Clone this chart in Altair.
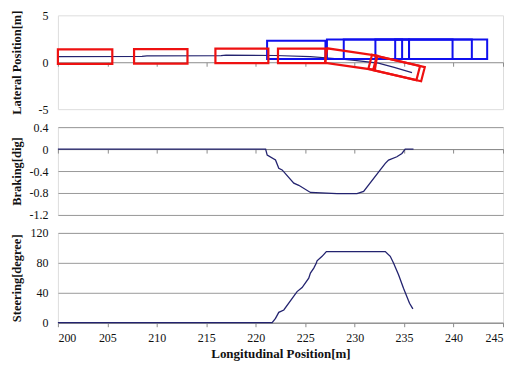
import altair as alt
import pandas as pd
import numpy as np

# ---------------- data ----------------
# vehicle trajectory (lateral position vs longitudinal position)
traj_x = [200, 208.5, 209.0, 216.5, 217.0, 222.0, 225.5, 228.0, 230.0, 232.4, 234.0, 235.8]
traj_y = [0.6, 0.62, 0.68, 0.7, 0.75, 0.72, 0.6, 0.4, 0.2, -0.1, -0.55, -1.1]

# ego vehicle footprints (red): centre, length, width, heading angle [deg]
red_cx = [202.75, 210.4, 218.6, 224.65, 229.64, 234.0, 234.48]
red_cy = [0.6, 0.62, 0.68, 0.68, 0.33, -0.56, -0.68]
red_len = [5.5, 5.4, 5.35, 4.8, 5.1, 5.0, 5.0]
red_wid = [1.55, 1.55, 1.55, 1.55, 1.55, 1.55, 1.55]
red_ang = [0, 0, 0, 0, -8.7, -13.8, -13.8]

# other vehicle footprints (blue)
blue_x0 = [221.15, 227.2, 228.9, 232.1, 234.1, 235.5]
blue_x1 = [227.05, 234.8, 235.5, 239.9, 241.85, 243.4]
blue_y0 = [0.35, 0.35, 0.35, 0.35, 0.35, 0.35]
blue_y1 = [2.3, 2.42, 2.42, 2.42, 2.42, 2.42]

# braking
brk_x = [200, 221.0, 221.16, 222.0, 222.33, 222.67, 223.85, 224.35, 225.53, 228.22,
         230.24, 230.91, 232.59, 233.10, 233.43, 234.27, 234.78, 235.11, 235.95]
brk_y = [0, 0, -0.11, -0.2, -0.35, -0.38, -0.62, -0.66, -0.79, -0.81,
         -0.81, -0.77, -0.38, -0.26, -0.2, -0.14, -0.08, 0, 0]

# steering
str_x = [200, 221.66, 222.0, 222.33, 222.84, 224.18, 224.69, 225.36, 225.53, 225.87, 226.13,
         226.2, 226.71, 227.14, 233.10, 233.6, 233.93, 234.44, 234.94, 235.55, 235.89]
str_y = [0, 0, 5.8, 13.9, 17, 41.6, 47, 59.6, 66.3, 73, 79.7,
         82.8, 88.7, 95, 95, 88.7, 79.7, 64, 46, 26, 18.4]

x_ticks = [200, 205, 210, 215, 220, 225, 230, 235, 240, 245]

# ---------------- tables ----------------
traj_df = pd.DataFrame({"x": traj_x, "y": traj_y})
rows = []
for i, (cx, cy, L, W, a) in enumerate(zip(red_cx, red_cy, red_len, red_wid, red_ang)):
    t = np.radians(a)
    ux, uy = np.cos(t), np.sin(t)
    nx, ny = -np.sin(t), np.cos(t)
    for k, (s1, s2) in enumerate([(-1, -1), (1, -1), (1, 1), (-1, 1), (-1, -1)]):
        rows.append({"id": i, "k": k,
                     "x": cx + s1 * L / 2 * ux + s2 * W / 2 * nx,
                     "y": cy + s1 * L / 2 * uy + s2 * W / 2 * ny})
red_df = pd.DataFrame(rows)
blue_df = pd.DataFrame({"x0": blue_x0, "x1": blue_x1, "y0": blue_y0, "y1": blue_y1})
brk_df = pd.DataFrame({"x": brk_x, "y": brk_y})
str_df = pd.DataFrame({"x": str_x, "y": str_y})

W_PLOT = 446
H1, H2, H3 = 94, 88, 90
SERIF = "Times New Roman, Liberation Serif, DejaVu Serif, serif"
LINE = "#23236f"
GRAY = "#8c8c8c"

xscale = alt.Scale(domain=[200, 245], nice=False, zero=False)


def x_inner(offset):
    return alt.Axis(values=x_ticks, labels=False, title=None, grid=False, offset=offset,
                    domainColor=GRAY, tickColor=GRAY, tickSize=4)


def y_axis(title, values, h, grid):
    return alt.Axis(values=values, title=title, grid=grid, gridColor="#9a9a9a",
                    domain=False, ticks=False, labelFont=SERIF, labelFontSize=12,
                    labelColor="#111", labelPadding=10, format=".1~f",
                    labelExpr="replace(datum.label, '\u2212', '-')",
                    titleFont=SERIF, titleFontSize=12.5, titleFontWeight="bold",
                    titleColor="#111", titleX=-41, titleY=h / 2, titleAngle=-90,
                    titleAlign="center", titleBaseline="middle")


# ---- top panel ----
ax_top = x_inner(-H1 / 2)
y_top = alt.Scale(domain=[-5, 5], nice=False)
yax_top = y_axis("Lateral Position[m]", [-5, 0, 5], H1, False)

traj = alt.Chart(traj_df).mark_line(color=LINE, strokeWidth=1.2).encode(
    x=alt.X("x:Q", scale=xscale, axis=ax_top),
    y=alt.Y("y:Q", scale=y_top, axis=yax_top),
)
blue = alt.Chart(blue_df).mark_rect(fill="white", fillOpacity=0, stroke="#1010ee",
                                    strokeWidth=2).encode(
    x=alt.X("x0:Q", scale=xscale, axis=ax_top), x2="x1:Q",
    y=alt.Y("y0:Q", scale=y_top, axis=yax_top), y2="y1:Q",
)
red = alt.Chart(red_df).mark_line(color="#ee1111", strokeWidth=2.2, strokeJoin="miter",
                                  strokeCap="square").encode(
    x=alt.X("x:Q", scale=xscale, axis=ax_top),
    y=alt.Y("y:Q", scale=y_top, axis=yax_top),
    detail="id:N", order="k:Q",
)
top = alt.layer(traj, blue, red).properties(width=W_PLOT, height=H1)

# ---- middle panel ----
mid = alt.Chart(brk_df).mark_line(color=LINE, strokeWidth=1.3).encode(
    x=alt.X("x:Q", scale=xscale, axis=x_inner(-H2 * 1.2 / 1.6)),
    y=alt.Y("y:Q", scale=alt.Scale(domain=[-1.2, 0.4], nice=False),
            axis=y_axis("Braking[dig]", [0.4, 0, -0.4, -0.8, -1.2], H2, True)),
).properties(width=W_PLOT, height=H2)

# ---- bottom panel ----
bot = alt.Chart(str_df).mark_line(color=LINE, strokeWidth=1.3).encode(
    x=alt.X("x:Q", scale=xscale,
            axis=alt.Axis(values=x_ticks, title="Longitudinal Position[m]", grid=False,
                          domainColor=GRAY, tickColor=GRAY, tickSize=4,
                          labelFont=SERIF, labelFontSize=12, labelColor="#111",
                          labelPadding=6, titleFont=SERIF, titleFontSize=13,
                          titleFontWeight="bold", titleColor="#111", titlePadding=4)),
    y=alt.Y("y:Q", scale=alt.Scale(domain=[0, 120], nice=False),
            axis=y_axis("Steering[degree]", [0, 40, 80, 120], H3, True)),
).properties(width=W_PLOT, height=H3)

chart = alt.vconcat(top, mid, bot, spacing=18, bounds="flush").properties(
    padding={"left": 2, "top": 0, "right": 0, "bottom": 0}
).configure_view(stroke=GRAY, strokeWidth=1).configure(background="white", font=SERIF)

chart.save("out.html", embed_options={"renderer": "svg", "actions": False})
